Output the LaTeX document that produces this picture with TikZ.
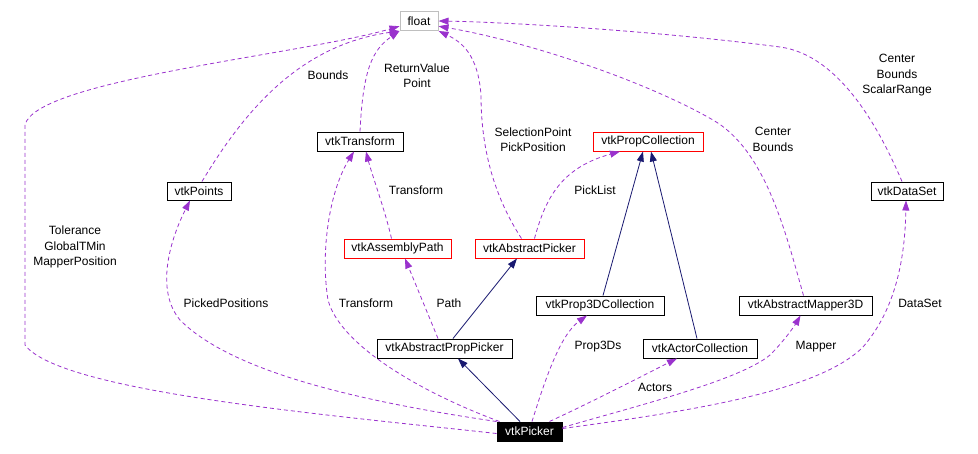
\documentclass[tikz,border=0pt]{standalone}
\usepackage{fontspec}
\setmainfont{Liberation Sans}
\usetikzlibrary{arrows.meta}
\definecolor{edgepurple}{HTML}{9A32CD}
\definecolor{edgenavy}{HTML}{191970}
\definecolor{floatgray}{HTML}{BFBFBF}
\tikzset{
  cls/.style={draw=black, line width=1pt, fill=white, inner sep=0pt, minimum height=19pt, font=\fontsize{12}{14}\selectfont},
  redcls/.style={cls, draw=red},
  graycls/.style={cls, draw=floatgray},
  curcls/.style={cls, fill=black, text=white},
  usage/.style={draw=edgepurple, line width=0.8pt, dash pattern=on 4pt off 3pt, -{Triangle[length=10pt,width=7pt,fill=edgepurple]}},
  inherit/.style={draw=edgenavy, line width=0.8pt, -{Triangle[length=10pt,width=7pt,fill=edgenavy]}},
  lbl/.style={align=center, inner sep=0pt, font=\fontsize{12}{15.5}\selectfont}
}
\begin{document}
\begin{tikzpicture}[x=1pt,y=-1pt]
\useasboundingbox (0,0) rectangle (978,453);
% nodes
\node[graycls, minimum width=38pt] (float) at (419,21) {float};
\node[cls, minimum width=86pt] (transform) at (360,141.5) {vtkTransform};
\node[cls, minimum width=64pt, minimum height=18pt] (points) at (199,191) {vtkPoints};
\node[redcls, minimum width=110pt] (propcoll) at (648,141.5) {vtkPropCollection};
\node[cls, minimum width=72pt, minimum height=18pt] (dataset) at (907,191) {vtkDataSet};
\node[redcls, minimum width=107pt] (apath) at (397.5,248.5) {vtkAssemblyPath};
\node[redcls, minimum width=109pt] (apicker) at (529.5,248.5) {vtkAbstractPicker};
\node[cls, minimum width=135pt] (apropp) at (444.5,348.5) {vtkAbstractPropPicker};
\node[cls, minimum width=128pt] (prop3d) at (600,305.5) {vtkProp3DCollection};
\node[cls, minimum width=133pt] (mapper) at (805.5,305.5) {vtkAbstractMapper3D};
\node[cls, minimum width=114pt] (actorcoll) at (700,348.5) {vtkActorCollection};
\node[curcls, minimum width=65pt] (picker) at (529.5,431.5) {vtkPicker};

% inheritance edges
\draw[inherit] ([xshift=-9.5pt]picker.north) -- ([xshift=13.5pt]apropp.south);
\draw[inherit] ([xshift=8.5pt]apropp.north) -- ([xshift=-12.5pt]apicker.south);
\draw[inherit] ([xshift=3pt]prop3d.north) -- ([xshift=-5pt]propcoll.south);
\draw[inherit] ([xshift=-3pt]actorcoll.north) -- ([xshift=3pt]propcoll.south);

% usage edges
\draw[usage] ([yshift=-2pt]picker.west) .. controls (330,415) and (60,392) .. (25,345)
   -- (25,125) .. controls (35,80) and (300,55) .. (float.195);
\draw[usage] ([xshift=3pt]points.north) .. controls (245,110) and (300,45) .. (float.south west);
\draw[usage] (transform.north) .. controls (363,70) and (372,50) .. (float.south west);
\draw[usage] ([xshift=-8pt]apicker.north) .. controls (490,190) and (481,140) .. (481,95)
   .. controls (478,55) and (462,42) .. (float.south east);
\draw[usage] ([xshift=-2pt]mapper.north) .. controls (785,230) and (765,150) .. (713,120)
   .. controls (640,78) and (520,40) .. (float.345);
\draw[usage] ([xshift=-5pt]dataset.north) .. controls (880,130) and (840,55) .. (780,47)
   .. controls (650,30) and (500,22) .. (float.east);
\draw[usage] ([xshift=-6pt]apath.north) .. controls (385,210) and (372,175) .. ([xshift=6pt]transform.south);
\draw[usage] ([xshift=-30pt]picker.north) .. controls (420,392) and (340,345) .. (328,300)
   .. controls (320,250) and (330,190) .. ([xshift=-6pt]transform.south);
\draw[usage] (picker.north west) .. controls (350,400) and (230,370) .. (180,320)
   .. controls (155,290) and (170,240) .. ([xshift=-9pt]points.south);
\draw[usage] ([xshift=-6.5pt]apropp.north) -- ([xshift=7.5pt]apath.south);
\draw[usage] ([xshift=5pt]apicker.north) .. controls (545,200) and (560,168) .. ([xshift=-28pt]propcoll.south);
\draw[usage] ([xshift=2.5pt]picker.north) .. controls (545,380) and (560,335) .. ([xshift=-13pt]prop3d.south);
\draw[usage] ([xshift=20pt]picker.north) .. controls (600,398) and (650,372) .. ([xshift=-23pt]actorcoll.south);
\draw[usage] ([yshift=4pt]picker.east) .. controls (640,405) and (740,380) .. (770,355)
   .. controls (785,340) and (795,325) .. ([xshift=-5pt]mapper.south);
\draw[usage] ([yshift=3pt]picker.east) .. controls (700,410) and (820,390) .. (863,347)
   .. controls (895,310) and (905,260) .. ([xshift=-1pt]dataset.south);

% labels
\node[lbl] (lBounds) at (328,75) {Bounds};
\node[lbl] (lRet) at (417,75.5) {ReturnValue\\Point};
\node[lbl] (lSel) at (533,139.5) {SelectionPoint\\PickPosition};
\node[lbl] (lCB) at (773,139.5) {Center\\Bounds};
\node[lbl] (lCBS) at (897,75.5) {Center\\Bounds\\ScalarRange};
\node[lbl] (lTr1) at (416,190) {Transform};
\node[lbl] (lPick) at (595,190) {PickList};
\node[lbl] (lTol) at (75,247) {Tolerance\\GlobalTMin\\MapperPosition};
\node[lbl] (lPP) at (226,303) {PickedPositions};
\node[lbl] (lTr2) at (366,303) {Transform};
\node[lbl] (lPath) at (449,303) {Path};
\node[lbl] (lP3) at (598,347) {Prop3Ds};
\node[lbl] (lAct) at (655,387) {Actors};
\node[lbl] (lMap) at (816,347) {Mapper};
\node[lbl] (lDS) at (920,303) {DataSet};
\end{tikzpicture}
\end{document}
